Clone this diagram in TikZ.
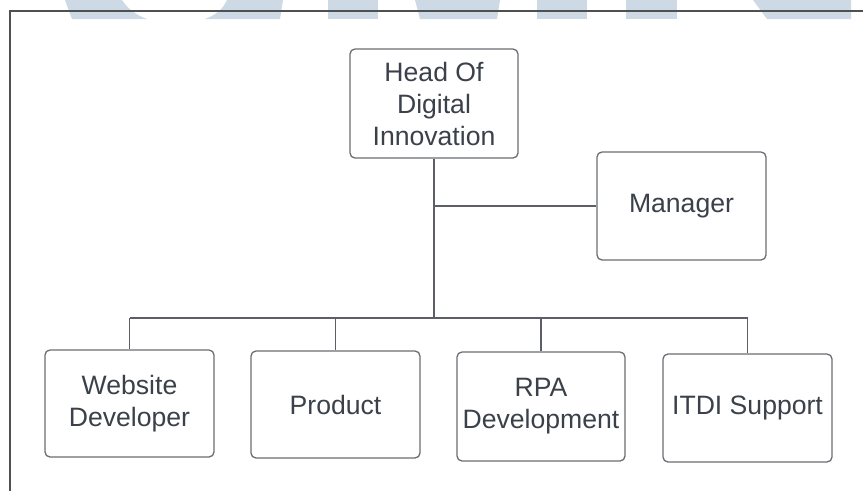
\documentclass[tikz,border=0pt]{standalone}
\usepackage{fontspec}
\setmainfont{Liberation Sans}
\definecolor{wm}{HTML}{CDD9E5}
\definecolor{txt}{HTML}{3A414A}
\definecolor{boxline}{HTML}{6A6E73}
\definecolor{conn}{HTML}{5C6066}
\definecolor{frame}{HTML}{4E5052}
\begin{document}
\begin{tikzpicture}[x=1pt,y=-1pt,
  orgbox/.style={draw=boxline, line width=1.3pt, rounded corners=5pt, fill=white,
    inner sep=0pt, align=center, text=txt,
    font=\fontsize{26.6}{32}\selectfont},
  conline/.style={draw=conn, line width=1.3pt}]
\useasboundingbox (0,0) rectangle (863,491);
% watermark
\fill[wm] (65,0) -- (122,0) .. controls (128,9) and (136,15) .. (147,19) -- (72,19) -- cycle;
\fill[wm] (227,0) -- (283,0) -- (280,19) -- (205,19) .. controls (216,15) and (223,9) .. cycle;
\fill[wm] (328,0) rectangle (378,19);
\fill[wm] (415,0) -- (500,0) -- (497,19) -- (420,19) -- cycle;
\fill[wm] (537,0) rectangle (587,19);
\fill[wm] (626,0) rectangle (677,19);
\fill[wm] (753,0) -- (851,0) -- (851,19) -- (767,19) -- cycle;
% frame
\draw[frame, line width=1.5pt] (10,491) -- (10,11) -- (863,11);
% nodes
\node[orgbox, minimum width=168pt, minimum height=109pt] (head) at (434,103.5) {Head Of\\Digital\\Innovation};
\node[orgbox, minimum width=169pt, minimum height=108pt] (mgr) at (681.5,206) {Manager};
\node[orgbox, minimum width=169pt, minimum height=107pt] (web) at (129.5,403.5) {Website\\Developer};
\node[orgbox, minimum width=169pt, minimum height=107pt] (prod) at (335.5,404.5) {Product};
\node[orgbox, minimum width=168pt, minimum height=109pt] (rpa) at (541,406.5) {RPA\\Development};
\node[orgbox, minimum width=169pt, minimum height=108pt] (itdi) at (747.5,408) {ITDI Support};
% connectors
\coordinate (bus) at (434,318);
\coordinate (mid) at (434,206);
\draw[conline] (head.south) -- (bus);
\draw[conline] (mid) -- (mgr.west);
\draw[conline] (web.north |- bus) -- (itdi.north |- bus);
\draw[conline] (web.north |- bus) -- (web.north);
\draw[conline] (prod.north |- bus) -- (prod.north);
\draw[conline] (rpa.north |- bus) -- (rpa.north);
\draw[conline] (itdi.north |- bus) -- (itdi.north);
\end{tikzpicture}
\end{document}
